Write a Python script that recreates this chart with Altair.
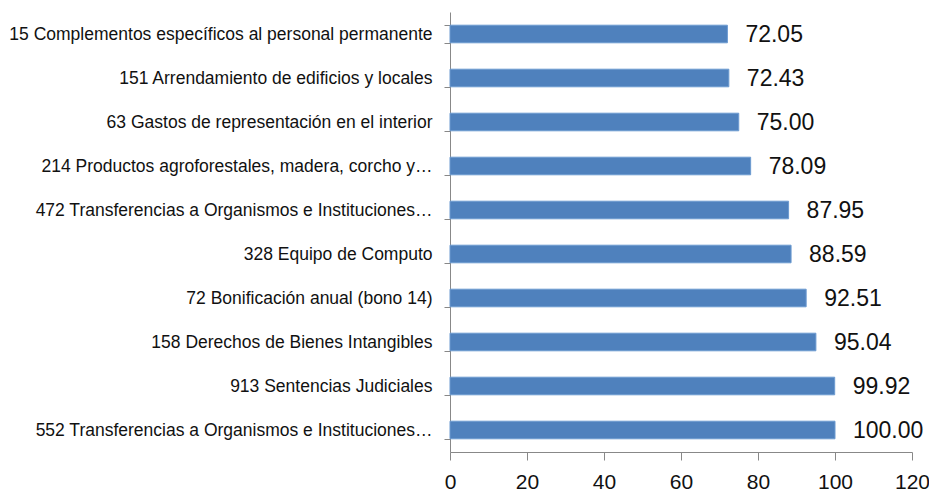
import altair as alt
import pandas as pd

categories = [
    "15 Complementos específicos al personal permanente",
    "151 Arrendamiento de edificios y locales",
    "63 Gastos de representación en el interior",
    "214 Productos agroforestales, madera, corcho y…",
    "472 Transferencias a Organismos e Instituciones…",
    "328 Equipo de Computo",
    "72 Bonificación anual (bono 14)",
    "158 Derechos de Bienes Intangibles",
    "913 Sentencias Judiciales",
    "552 Transferencias a Organismos e Instituciones…",
]
values = [72.05, 72.43, 75.00, 78.09, 87.95, 88.59, 92.51, 95.04, 99.92, 100.00]

df = pd.DataFrame({"cat": categories, "val": values,
                   "lab": [f"{v:.2f}" for v in values]})

FONT = "Liberation Sans"

y = alt.Y("cat:N", sort=categories, title=None,
          scale=alt.Scale(paddingInner=0.6, paddingOuter=0.3),
          axis=alt.Axis(labelFont=FONT, labelFontSize=17.5, labelColor="#111111",
                        labelLimit=0, domainColor="#888888", tickColor="#888888",
                        tickSize=6, labelPadding=12, tickBand="extent"))
x = alt.X("val:Q", title=None,
          scale=alt.Scale(domain=[0, 120]),
          axis=alt.Axis(values=[0, 20, 40, 60, 80, 100, 120], grid=False,
                        labelFont=FONT, labelFontSize=21, labelColor="#111111",
                        labelFlush=False, labelOverlap=False,
                        domainColor="#888888", tickColor="#888888",
                        tickSize=8, labelPadding=11))

bars = alt.Chart(df).mark_bar(color="#4F81BD", stroke="#6C9AD0",
                              strokeWidth=1).encode(x=x, y=y)
text = alt.Chart(df).mark_text(align="left", baseline="middle", dx=18, dy=1,
                               font=FONT, fontSize=23, color="#111111").encode(
    x="val:Q", y=alt.Y("cat:N", sort=categories), text="lab:N")

chart = (bars + text).properties(
    width=462, height=440,
    autosize=alt.AutoSizeParams(type="none"),
    padding={"left": 442, "top": 4, "right": 17, "bottom": 40},
).configure_view(stroke=None)

chart.save("out.html", embed_options={"renderer": "svg", "actions": False})
